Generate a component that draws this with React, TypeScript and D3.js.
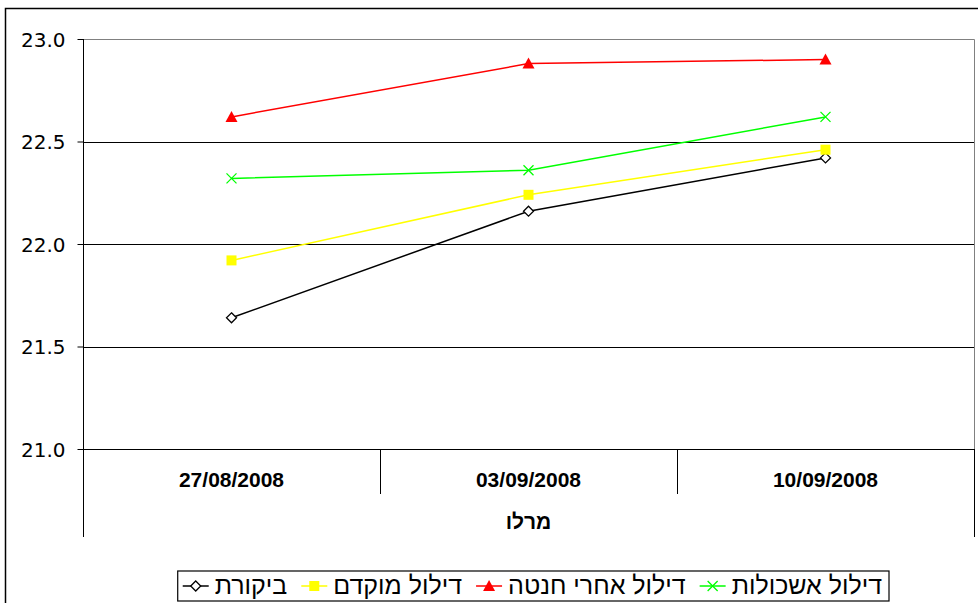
import React, { useEffect, useRef } from "react";
import * as d3 from "d3";

const dates = ["27/08/2008", "03/09/2008", "10/09/2008"];
const groupLabel = "מרלו";
const yTicks = [21.0, 21.5, 22.0, 22.5, 23.0];

const control = [21.64, 22.16, 22.42];
const earlyThin = [21.92, 22.24, 22.46];
const afterSetThin = [22.62, 22.88, 22.9];
const clusterThin = [22.32, 22.36, 22.62];

const seriesNames = ["ביקורת", "דילול מוקדם", "דילול אחרי חנטה", "דילול אשכולות"];
const seriesColors = ["#000000", "#ffff00", "#ff0000", "#00ff00"];
const seriesMarkers = ["diamond", "square", "triangle", "cross"];

function drawMarker(g, type, color, x, y) {
  if (type === "diamond") {
    g.append("path")
      .attr("d", `M${x},${y - 5}L${x + 5},${y}L${x},${y + 5}L${x - 5},${y}Z`)
      .attr("fill", "#fff")
      .attr("stroke", color)
      .attr("stroke-width", 1.3);
  } else if (type === "square") {
    g.append("rect")
      .attr("x", x - 5)
      .attr("y", y - 5)
      .attr("width", 10)
      .attr("height", 10)
      .attr("fill", color);
  } else if (type === "triangle") {
    g.append("path")
      .attr("d", `M${x},${y - 6}L${x + 6},${y + 5}L${x - 6},${y + 5}Z`)
      .attr("fill", color);
  } else {
    g.append("path")
      .attr("d", `M${x - 5},${y - 5}L${x + 5},${y + 5}M${x - 5},${y + 5}L${x + 5},${y - 5}`)
      .attr("stroke", color)
      .attr("stroke-width", 1.3);
  }
}

export default function App() {
  const svgRef = useRef(null);

  useEffect(() => {
    document.body.style.margin = "0";
    const width = 978;
    const height = 603;
    const plot = { left: 83, right: 974, top: 39, bottom: 449 };
    const allSeries = [control, earlyThin, afterSetThin, clusterThin];

    const svg = d3.select(svgRef.current);
    svg.selectAll("*").remove();
    svg.attr("width", width).attr("height", height);

    svg.append("rect").attr("width", width).attr("height", height).attr("fill", "#fff");

    // outer frame
    svg
      .append("rect")
      .attr("x", 5.5)
      .attr("y", 8.5)
      .attr("width", 1000)
      .attr("height", 1000)
      .attr("fill", "none")
      .attr("stroke", "#000")
      .attr("stroke-width", 1.5);

    const x = d3.scaleBand().domain(dates).range([plot.left, plot.right]);
    const y = d3.scaleLinear().domain([21, 23]).range([plot.bottom, plot.top]);
    const cx = (d) => x(d) + x.bandwidth() / 2;

    // gridlines
    svg
      .selectAll(".grid")
      .data(yTicks.filter((t) => t > 21 && t < 23))
      .enter()
      .append("line")
      .attr("x1", plot.left)
      .attr("x2", plot.right)
      .attr("y1", (d) => Math.round(y(d)) + 0.5)
      .attr("y2", (d) => Math.round(y(d)) + 0.5)
      .attr("stroke", "#000");

    // plot border top/right
    svg
      .append("path")
      .attr("d", `M${plot.left},${plot.top + 0.5}H${plot.right + 0.5}V${plot.bottom}`)
      .attr("fill", "none")
      .attr("stroke", "#808080");

    // y axis
    svg
      .append("g")
      .attr("transform", `translate(${plot.left + 0.5},0)`)
      .call(d3.axisLeft(y).tickValues(yTicks).tickFormat(d3.format(".1f")).tickSize(6))
      .call((g) => g.select(".domain").attr("d", `M0,${plot.top}V${plot.bottom + 88}`))
      .call((g) =>
        g
          .selectAll("text")
          .attr("x", -18)
          .attr("dy", "0.35em")
          .style("font-family", "'DejaVu Sans', Verdana, sans-serif")
          .style("font-size", "20px")
          .attr("fill", "#000")
      );

    // category axis
    svg
      .append("line")
      .attr("x1", plot.left)
      .attr("x2", plot.right + 1)
      .attr("y1", plot.bottom + 0.5)
      .attr("y2", plot.bottom + 0.5)
      .attr("stroke", "#000");
    svg
      .selectAll(".sep")
      .data(dates.slice(1))
      .enter()
      .append("line")
      .attr("x1", (d) => Math.round(x(d)) + 0.5)
      .attr("x2", (d) => Math.round(x(d)) + 0.5)
      .attr("y1", plot.bottom)
      .attr("y2", plot.bottom + 45)
      .attr("stroke", "#000");
    svg
      .append("line")
      .attr("x1", plot.right + 0.5)
      .attr("x2", plot.right + 0.5)
      .attr("y1", plot.bottom)
      .attr("y2", plot.bottom + 88)
      .attr("stroke", "#000");

    svg
      .selectAll(".cat")
      .data(dates)
      .enter()
      .append("text")
      .attr("x", cx)
      .attr("y", plot.bottom + 38)
      .attr("text-anchor", "middle")
      .style("font-family", "'Liberation Sans', Arial, sans-serif")
      .style("font-weight", "bold")
      .style("font-size", "21px")
      .text((d) => d);

    svg
      .append("text")
      .attr("x", (plot.left + plot.right) / 2)
      .attr("y", plot.bottom + 80)
      .attr("text-anchor", "middle")
      .style("font-family", "'Liberation Sans', Arial, sans-serif")
      .style("font-weight", "bold")
      .style("font-size", "21px")
      .text(groupLabel);

    // series
    allSeries.forEach((vals, i) => {
      const line = d3
        .line()
        .x((d, j) => cx(dates[j]))
        .y((d) => y(d));
      svg
        .append("path")
        .datum(vals)
        .attr("fill", "none")
        .attr("stroke", seriesColors[i])
        .attr("stroke-width", 1.5)
        .attr("d", line);
      const mg = svg.append("g");
      vals.forEach((v, j) => drawMarker(mg, seriesMarkers[i], seriesColors[i], cx(dates[j]), y(v)));
    });

    // legend (right to left)
    const legend = svg.append("g");
    const box = legend
      .append("rect")
      .attr("fill", "#fff")
      .attr("stroke", "#000")
      .attr("stroke-width", 1.2);
    let curX = 882;
    const ly = 586;
    for (let i = allSeries.length - 1; i >= 0; i--) {
      const t = legend
        .append("text")
        .attr("x", curX)
        .attr("y", ly + 8)
        .attr("text-anchor", "end")
        .style("font-family", "'Liberation Sans', Arial, sans-serif")
        .style("font-size", "25px")
        .text(seriesNames[i]);
      const w = t.node().getComputedTextLength();
      const lineEnd = curX - w - 6;
      const lineStart = lineEnd - 26;
      legend
        .append("line")
        .attr("x1", lineStart)
        .attr("x2", lineEnd)
        .attr("y1", ly)
        .attr("y2", ly)
        .attr("stroke", seriesColors[i])
        .attr("stroke-width", 1.5);
      drawMarker(legend, seriesMarkers[i], seriesColors[i], (lineStart + lineEnd) / 2, ly);
      curX = lineStart - 14;
    }
    box
      .attr("x", curX + 14 - 5)
      .attr("y", 571)
      .attr("width", 889 - (curX + 9))
      .attr("height", 30);
  }, []);

  return <svg ref={svgRef} style={{ display: "block" }}></svg>;
}
